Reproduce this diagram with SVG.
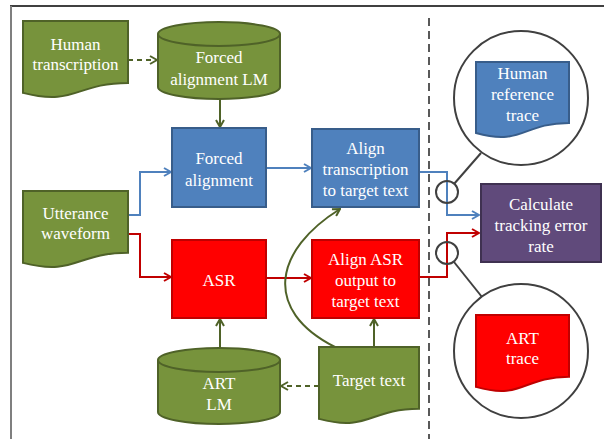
<svg xmlns="http://www.w3.org/2000/svg" width="604" height="439" viewBox="0 0 604 439">
<defs>
<style>
text{font-family:"Liberation Serif","Times New Roman",Tinos,"DejaVu Serif",serif;font-size:17px;fill:#fff;text-anchor:middle}
.g{fill:#77933C;stroke:#4F6228;stroke-width:2}
.b{fill:#4F81BD;stroke:#385D8A;stroke-width:2}
.r{fill:#FF0000;stroke:#C00000;stroke-width:2}
.p{fill:#604A7B;stroke:#3F3151;stroke-width:2}
.cg{fill:none;stroke:#4F6228;stroke-width:2}
.cb{fill:none;stroke:#4F81BD;stroke-width:2}
.cr{fill:none;stroke:#C00000;stroke-width:2}
.dash{stroke-dasharray:5,4}
.call{fill:#fff;stroke:#404040;stroke-width:2}
</style>
<marker id="ag" viewBox="0 0 10 10" refX="9" refY="5" markerWidth="10" markerHeight="10" markerUnits="userSpaceOnUse" orient="auto"><path d="M2,1 L9,5 L2,9" fill="none" stroke="#4F6228" stroke-width="2"/></marker>
<marker id="ab" viewBox="0 0 10 10" refX="9" refY="5" markerWidth="10" markerHeight="10" markerUnits="userSpaceOnUse" orient="auto"><path d="M2,1 L9,5 L2,9" fill="none" stroke="#4F81BD" stroke-width="2"/></marker>
<marker id="ar" viewBox="0 0 10 10" refX="9" refY="5" markerWidth="10" markerHeight="10" markerUnits="userSpaceOnUse" orient="auto"><path d="M2,1 L9,5 L2,9" fill="none" stroke="#C00000" stroke-width="2"/></marker>
</defs>
<rect width="604" height="439" fill="#fff"/>
<g id="frame">
<line x1="10" y1="6" x2="604" y2="6" stroke="#000" stroke-width="1.5"/>
<line x1="11" y1="6" x2="11" y2="439" stroke="#7F7F7F" stroke-width="2"/>
<line x1="429" y1="18" x2="429" y2="439" stroke="#595959" stroke-width="2" stroke-dasharray="8,5"/>
</g>
<g id="connectors">
<path class="cg dash" d="M128,60 H157" marker-end="url(#ag)"/>
<path class="cg" d="M220,99 V127" marker-end="url(#ag)"/>
<path class="cb" d="M128,215 H140 V172 H171" marker-end="url(#ab)"/>
<path class="cr" d="M128,234 H140 V277 H171" marker-end="url(#ar)"/>
<path class="cb" d="M266,168 H311" marker-end="url(#ab)"/>
<path class="cr" d="M266,278 H311" marker-end="url(#ar)"/>
<path class="cg" d="M220,348 V319" marker-end="url(#ag)"/>
<path class="cg dash" d="M319,386 H281" marker-end="url(#ag)"/>
<path class="cg" d="M374,347 V319" marker-end="url(#ag)"/>
<path class="cg" d="M335,347 C262,310 274,250 340,209" marker-end="url(#ag)"/>
<path class="cb" d="M419,172 H447 V215 H479" marker-end="url(#ab)"/>
<path class="cr" d="M419,277 H447 V233 H479" marker-end="url(#ar)"/>
</g>
<g id="human-transcription">
<path class="g" d="M23,21 H128 V83 C75.5,83 75.5,106.3 23,92.9 Z"/>
<text x="75.5" y="50">Human</text>
<text x="75.5" y="70">transcription</text>
</g>
<g id="forced-alignment-lm">
<path class="g" d="M158,34 A61,12 0 0 1 280,34 V87 A61,12 0 0 1 158,87 Z"/>
<path class="g" d="M158,34 A61,12 0 0 0 280,34"/>
<text x="219" y="63">Forced</text>
<text x="219" y="85">alignment LM</text>
</g>
<g id="forced-alignment">
<rect class="b" x="172" y="128" width="94" height="79"/>
<text x="219" y="164">Forced</text>
<text x="219" y="186">alignment</text>
</g>
<g id="align-transcription">
<rect class="b" x="312" y="129" width="107" height="78"/>
<text x="365.5" y="154">Align</text>
<text x="365.5" y="175">transcription</text>
<text x="365.5" y="196">to target text</text>
</g>
<g id="utterance-waveform">
<path class="g" d="M23,191 H128 V252.8 C75.5,252.8 75.5,276.3 23,262.9 Z"/>
<text x="75.5" y="219">Utterance</text>
<text x="75.5" y="239">waveform</text>
</g>
<g id="asr">
<rect class="r" x="172" y="240" width="94" height="78"/>
<text x="219" y="286">ASR</text>
</g>
<g id="align-asr">
<rect class="r" x="312" y="240" width="107" height="78"/>
<text x="365.5" y="265">Align ASR</text>
<text x="365.5" y="286">output to</text>
<text x="365.5" y="307">target text</text>
</g>
<g id="art-lm">
<path class="g" d="M158,360 A61,12 0 0 1 280,360 V412 A61,12 0 0 1 158,412 Z"/>
<path class="g" d="M158,360 A61,12 0 0 0 280,360"/>
<text x="219" y="389">ART</text>
<text x="219" y="410">LM</text>
</g>
<g id="target-text">
<path class="g" d="M319,347 H419 V408.8 C369,408.8 369,432.3 319,418.9 Z"/>
<text x="369" y="386">Target text</text>
</g>
<g id="calculate">
<rect class="p" x="481" y="184" width="120" height="78"/>
<text x="541" y="210">Calculate</text>
<text x="541" y="231">tracking error</text>
<text x="541" y="252">rate</text>
</g>
<g id="human-reference-trace">
<circle cx="447" cy="192" r="11" fill="none" stroke="#404040" stroke-width="2"/>
<line x1="454" y1="184" x2="481" y2="153" stroke="#404040" stroke-width="2"/>
<circle class="call" cx="521" cy="98" r="67"/>
<path class="b" d="M476,62 H569 V123 C522.5,123 522.5,146.2 476,133 Z"/>
<text x="522.5" y="79">Human</text>
<text x="522.5" y="100">reference</text>
<text x="522.5" y="121">trace</text>
</g>
<g id="art-trace">
<circle cx="447" cy="253" r="11" fill="none" stroke="#404040" stroke-width="2"/>
<line x1="454" y1="262" x2="482" y2="297" stroke="#404040" stroke-width="2"/>
<circle class="call" cx="521" cy="351" r="67"/>
<path class="r" d="M476,315 H569 V376.8 C522.5,376.8 522.5,400.3 476,386.9 Z"/>
<text x="522.5" y="344">ART</text>
<text x="522.5" y="364">trace</text>
</g>
</svg>
